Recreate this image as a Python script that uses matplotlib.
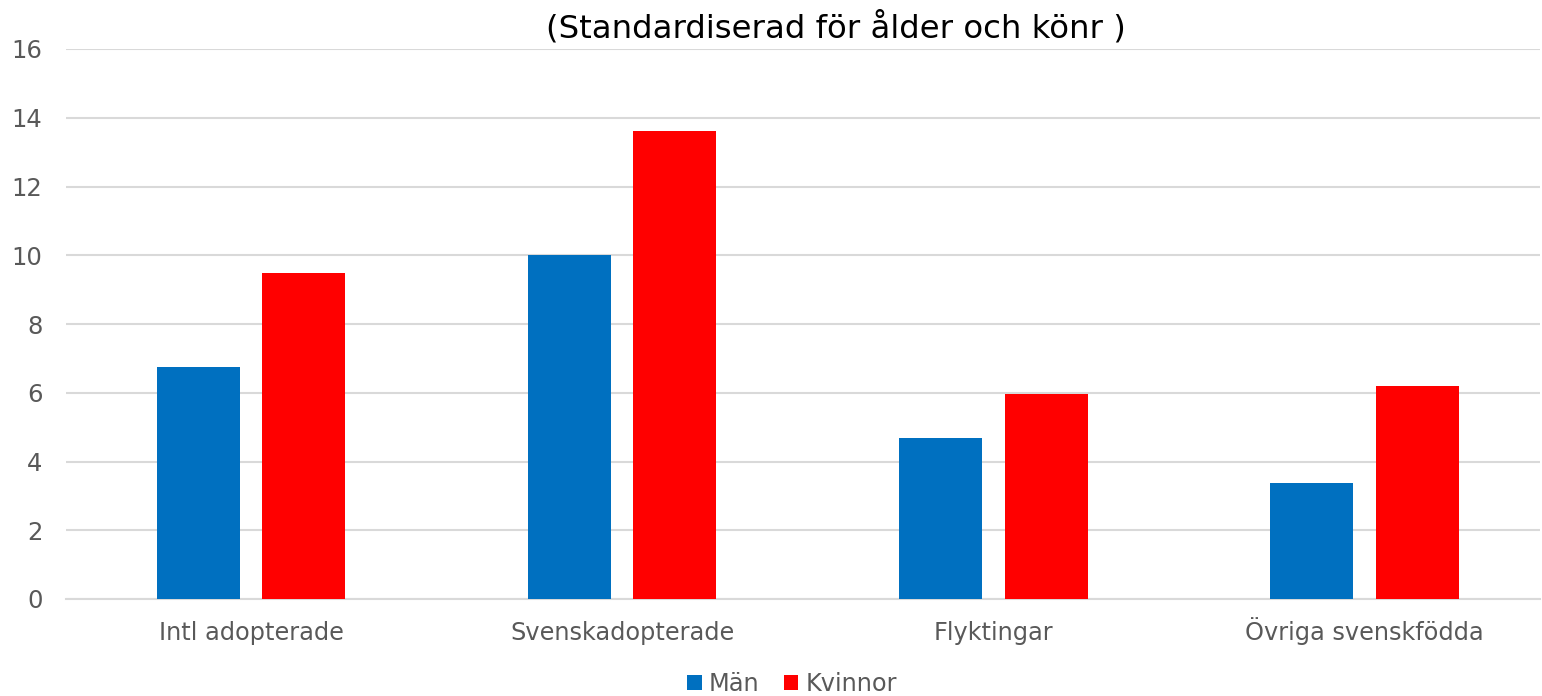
import matplotlib
matplotlib.use("Agg")
import matplotlib.pyplot as plt
import numpy as np

categories = ["Intl adopterade", "Svenskadopterade", "Flyktingar", "Övriga svenskfödda"]
man = [6.75, 10.02, 4.68, 3.38]
kvinnor = [9.48, 13.62, 5.97, 6.19]
yticks = [0, 2, 4, 6, 8, 10, 12, 14, 16]
title = "(Standardiserad för ålder och könr )"

plt.rcParams['font.family'] = ['DejaVu Sans']
fig = plt.figure(figsize=(15.42, 6.96), dpi=100)
ax = fig.add_axes([66/1542, 1-599/696, (1540-66)/1542, (599-49)/696])

x = np.arange(len(categories))
w = 0.2236
off = 0.1421
ax.bar(x - off, man, w, color="#0070C0", label="Män", zorder=3)
ax.bar(x + off, kvinnor, w, color="#FF0000", label="Kvinnor", zorder=3)

ax.set_xlim(-0.4984, 3.4728)
ax.set_ylim(0, 16)
ax.set_yticks(yticks)
ax.set_xticks(x)
ax.set_xticklabels(categories, va="baseline")
ax.yaxis.grid(True, color="#d9d9d9", linewidth=1.5, zorder=0)
for s in ["top", "right", "left"]:
    ax.spines[s].set_visible(False)
ax.spines["bottom"].set_color("#d9d9d9")
ax.spines["bottom"].set_linewidth(1.5)
ax.tick_params(axis="y", length=0, pad=17, labelsize=17.5, labelcolor="#595959")
ax.tick_params(axis="x", length=0, pad=29.5, labelsize=17.3, labelcolor="#595959")

fig.text(836/1542, 1-28/696, title, ha="center", va="center", fontsize=23.3, color="#000000")

leg = fig.legend(loc="center", bbox_to_anchor=(792/1542, 1-684/696), ncol=2, frameon=False,
                 fontsize=17.3, handlelength=0.6, handleheight=0.6, handletextpad=0.3,
                 columnspacing=1.0, labelcolor="#595959")

fig.savefig("out.png", dpi=100)
